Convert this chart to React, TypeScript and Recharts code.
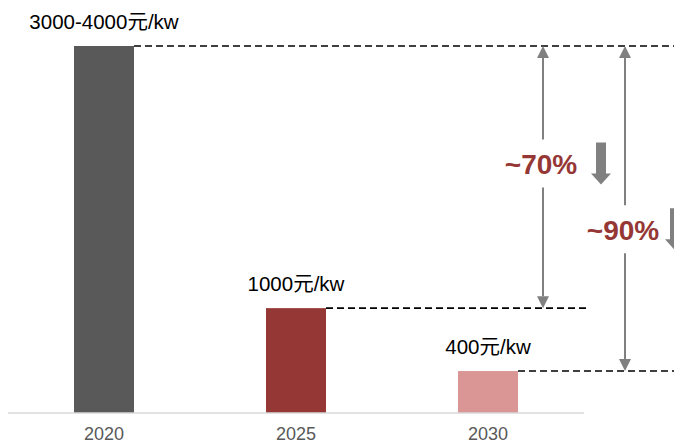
import React from 'react';
import { BarChart, Bar, XAxis, YAxis, Cell, LabelList, ReferenceLine } from 'recharts';

// data
const years = ['2020', '2025', '2030'];
const costs = [3500, 1000, 400];
const costLabels = ['3000-4000元/kw', '1000元/kw', '400元/kw'];
const drops = ['~70%', '~90%'];

const barColors = ['#595959', '#953735', '#D99694'];
const dashEnds = [674, 590, 674];
const RED = '#953735';
const GREY = '#808080';

const data = years.map((year, i) => ({ year, cost: costs[i], label: costLabels[i] }));

const CostBar = (props: any) => {
  const { x, y, width, height, index } = props;
  return (
    <g>
      <rect x={x} y={y} width={width} height={height} fill={barColors[index]} />
      <line
        x1={x + width}
        y1={y}
        x2={dashEnds[index]}
        y2={y}
        stroke="#000"
        strokeWidth={1.6}
        strokeDasharray="7 4"
      />
    </g>
  );
};

const CostLabel = (props: any) => {
  const { x, y, width, value } = props;
  return (
    <text x={x + width / 2} y={y - 17} textAnchor="middle" fontSize={20.5} fill="#000">
      {value}
    </text>
  );
};

const makeArrow = (dx: number, pos: number, text: string, blockDx: number) => (props: any) => {
  const { x1, y1, y2 } = props;
  const x = x1 + dx;
  const top = Math.min(y1, y2);
  const bot = Math.max(y1, y2);
  const ly = top + (bot - top) * pos;
  const hw = 6;
  const hh = 12;
  const bx = x + blockDx;
  return (
    <g>
      <line x1={x} y1={top + hh} x2={x} y2={ly - 25} stroke={GREY} strokeWidth={2} />
      <line x1={x} y1={ly + 23} x2={x} y2={bot - hh} stroke={GREY} strokeWidth={2} />
      <polygon points={`${x},${top} ${x - hw},${top + hh} ${x + hw},${top + hh}`} fill={GREY} />
      <polygon points={`${x},${bot} ${x - hw},${bot - hh} ${x + hw},${bot - hh}`} fill={GREY} />
      <text
        x={x - 2}
        y={ly + 10}
        textAnchor="middle"
        fontSize={28}
        fontWeight="bold"
        fill={RED}
      >
        {text}
      </text>
      <polygon
        points={`${bx - 5},${ly - 22} ${bx + 5},${ly - 22} ${bx + 5},${ly + 9} ${bx + 10},${ly + 9} ${bx},${ly + 20} ${bx - 10},${ly + 9} ${bx - 5},${ly + 9}`}
        fill={GREY}
      />
    </g>
  );
};

export default function App() {
  return (
    <div
      style={{
        position: 'absolute',
        left: 0,
        top: 0,
        fontFamily: '"Liberation Sans", Arial, "Noto Sans CJK SC", sans-serif',
      }}
    >
      <BarChart width={674} height={444} data={data} margin={{ top: 46, right: 90, left: 8, bottom: 0 }}>
        <XAxis
          dataKey="year"
          axisLine={{ stroke: '#d9d9d9', strokeWidth: 1.5 }}
          tickLine={false}
          tickMargin={8}
          height={31}
          tick={{ fill: '#595959', fontSize: 18 }}
        />
        <YAxis hide domain={[0, costs[0]]} />
        <Bar dataKey="cost" barSize={60} shape={CostBar} isAnimationActive={false}>
          {data.map((d, i) => (
            <Cell key={d.year} fill={barColors[i]} />
          ))}
          <LabelList dataKey="label" content={CostLabel} />
        </Bar>
        <ReferenceLine
          ifOverflow="visible"
          segment={[
            { x: years[2], y: costs[0] },
            { x: years[2], y: costs[1] },
          ]}
          shape={makeArrow(55, 0.452, drops[0], 58)}
        />
        <ReferenceLine
          ifOverflow="visible"
          segment={[
            { x: years[2], y: costs[0] },
            { x: years[2], y: costs[2] },
          ]}
          shape={makeArrow(137, 0.567, drops[1], 50)}
        />
      </BarChart>
    </div>
  );
}
